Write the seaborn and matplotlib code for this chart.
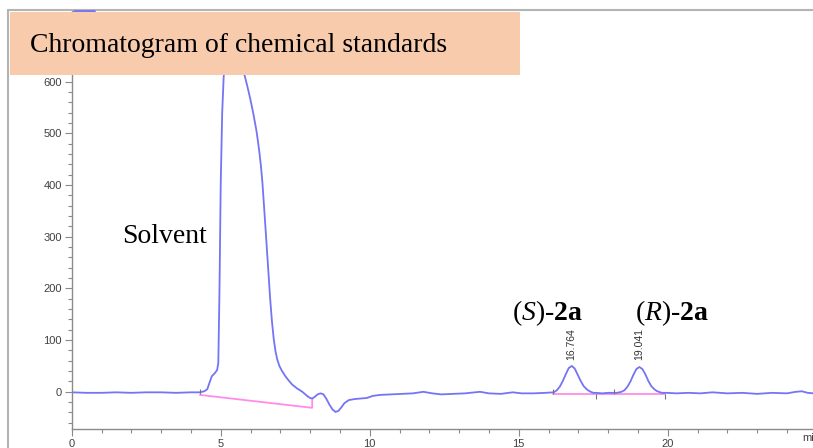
import matplotlib
matplotlib.use("Agg")
import matplotlib.pyplot as plt
import seaborn as sns
import pandas as pd
from matplotlib.patches import Rectangle
from matplotlib.lines import Line2D
from matplotlib.ticker import MultipleLocator

# ---- data ----
time_min = [0.0, 0.5, 1.0, 1.5, 2.0, 2.5, 3.0, 3.5, 4.0, 4.3, 4.45, 4.55, 4.62, 4.7, 4.8,
            4.88, 4.92, 4.96, 5.0, 5.05, 5.1, 5.2, 5.3, 5.4, 5.5, 5.6, 5.7, 5.8, 5.9, 6.0,
            6.1, 6.2, 6.25, 6.3, 6.35, 6.4, 6.45, 6.5, 6.55, 6.6, 6.66, 6.72, 6.78, 6.84,
            6.9, 6.97, 7.05, 7.16, 7.28, 7.4, 7.55, 7.74,
            7.9, 8.0, 8.07, 8.15, 8.25, 8.35, 8.45, 8.55, 8.65, 8.75, 8.85, 8.95, 9.05,
            9.15, 9.3, 9.5, 9.7, 9.9, 10.1, 10.35, 10.7, 11.0, 11.45, 11.8, 12.1, 12.4,
            12.8, 13.2, 13.7, 14.0, 14.4, 14.8, 15.1, 15.5, 15.9, 16.18, 16.28, 16.38,
            16.48, 16.58, 16.68, 16.78, 16.88, 16.98, 17.08, 17.18, 17.28, 17.38, 17.5,
            17.6, 17.8, 18.0, 18.3, 18.45, 18.55, 18.65, 18.75, 18.85, 18.95, 19.05,
            19.15, 19.25, 19.35, 19.45, 19.55, 19.65, 19.8, 19.95, 20.3, 20.7, 21.1,
            21.5, 22.0, 22.5, 23.0, 23.5, 24.0, 24.3, 24.5, 24.7, 24.9]
signal_mau = [-1, -2, -2, -1, -2, -1, -1, -2, -1, -1, 1, 5, 17, 30, 36,
              42, 56, 200, 400, 540, 610, 655, 680, 690, 685, 670, 645, 613, 590, 565,
              537, 505, 485, 463, 437, 405, 364, 320, 276, 233, 180, 136, 102, 78,
              62, 50, 41, 31, 22, 14, 7, 0,
              -8, -12, -13, -10, -5, -3, -5, -14, -25, -34, -39, -37, -30,
              -22, -16, -14, -13, -12, -8, -6, -5, -4, -3, 0, -3, -5,
              -4, -3, 0, -3, -4, -1, -3, -3, -2, -1, 3, 10,
              21, 34, 46, 50, 45, 33, 21, 11, 5, 1, -2,
              -2, -3, -2, -2, 0, 3, 10, 20, 33, 44, 48,
              44, 34, 21, 11, 5, 1, -2, -2, -3, -2, -3,
              -1, -3, -2, -4, -2, -3, 0, 1, -2, -3]

# integration baselines (magenta)
base1_t = [4.3, 8.07, 8.07]
base1_v = [-6, -31, -13]
base2_t = [16.15, 19.9]
base2_v = [-4, -4]

# peak start / end markers
mark_start_t = [4.3, 16.15, 18.2]
mark_end_t = [17.6, 19.9]

peak_rt = [16.764, 19.041]
peak_rt_labels = ["16.764", "19.041"]

y_ticks = [0, 100, 200, 300, 400, 500, 600]
x_ticks = [0, 5, 10, 15, 20]

title_text = "Chromatogram of chemical standards"

# ---- style ----
sns.set_style("ticks")
plt.rcParams["font.family"] = ["Liberation Sans", "DejaVu Sans"]
plt.rcParams["mathtext.fontset"] = "custom"
plt.rcParams["mathtext.rm"] = "Liberation Serif"
plt.rcParams["mathtext.it"] = "Liberation Serif:italic"
plt.rcParams["mathtext.bf"] = "Liberation Serif:bold"

W, H = 813, 448
fig = plt.figure(figsize=(W / 100, H / 100), dpi=100)
x0_px, xaxis_px, top_px = 71.7, 429, 10
ax = fig.add_axes([x0_px / W, (H - xaxis_px) / H, 1 - x0_px / W, (xaxis_px - top_px) / H])

df = pd.DataFrame({"t": time_min, "v": signal_mau})
sns.lineplot(data=df, x="t", y="v", ax=ax, color="#7474F4", linewidth=1.3, sort=True)
ax.plot(base1_t, base1_v, color="#FF8CEB", linewidth=1.3, zorder=1)
ax.plot(base2_t, base2_v, color="#FF8CEB", linewidth=1.3, zorder=1)
ax.vlines(mark_start_t, [-5] * len(mark_start_t), [5] * len(mark_start_t),
          color="#777777", linewidth=0.8, zorder=3)
ax.vlines(mark_end_t, [-4] * len(mark_end_t), [-14] * len(mark_end_t),
          color="#777777", linewidth=0.8, zorder=3)

ax.set_xlim(0, (W - x0_px) / 29.8)
ax.set_ylim(-72, 739)
ax.set_xticks(x_ticks)
ax.set_yticks(y_ticks)
ax.xaxis.set_minor_locator(MultipleLocator(1))
ax.yaxis.set_minor_locator(MultipleLocator(20))
ax.set_xlabel("")
ax.set_ylabel("")
for side in ["top", "right"]:
    ax.spines[side].set_visible(False)
for side in ["left", "bottom"]:
    ax.spines[side].set_color("#8a8a8a")
    ax.spines[side].set_linewidth(1.0)
ax.tick_params(which="major", length=5, width=0.8, color="#8a8a8a", labelsize=8,
               labelcolor="#404040", pad=2)
ax.tick_params(which="minor", length=3, width=0.8, color="#8a8a8a")
ax.grid(False)

# retention time labels
for rt, lab in zip(peak_rt, peak_rt_labels):
    ax.text(rt, 62, lab, rotation=90, ha="center", va="bottom", fontsize=7.5,
            color="#333333", family=["Liberation Sans"])

serif = ["Liberation Serif", "DejaVu Serif"]
ax.text(1.69, 300, "Solvent", fontsize=20, family=serif, ha="left", va="center", color="black")
ax.text(14.78, 153, r"$\mathrm{(}\mathit{S}\mathrm{)}$-$\mathbf{2a}$", fontsize=20,
        family=serif, ha="left", va="center", color="black")
ax.text(18.9, 153, r"$\mathrm{(}\mathit{R}\mathrm{)}$-$\mathbf{2a}$", fontsize=20,
        family=serif, ha="left", va="center", color="black")
ax.text(24.5, -90, "min", fontsize=8, color="#404040", ha="left", va="center",
        clip_on=False)

# outer frame
fig.add_artist(Line2D([8 / W, 8 / W], [0, (H - 10) / H], color="#b4b4b4", linewidth=1.5))
fig.add_artist(Line2D([8 / W, 1], [(H - 10) / H, (H - 10) / H], color="#b4b4b4", linewidth=1.5))
# hint of the instrument legend peeking above the title box
fig.add_artist(Line2D([74 / W, 94 / W], [(H - 11) / H, (H - 11) / H], color="#7474F4",
                      linewidth=2.0))

# title box
fig.patches.append(Rectangle((10 / W, (H - 75) / H), 510 / W, 63 / H, transform=fig.transFigure,
                             facecolor="#F8CBAD", edgecolor="none", zorder=5, figure=fig))
fig.text(30 / W, (H - 45) / H, title_text, fontsize=20, family=serif, ha="left",
         va="center", color="black", zorder=6)

fig.savefig("out.png", dpi=100)
